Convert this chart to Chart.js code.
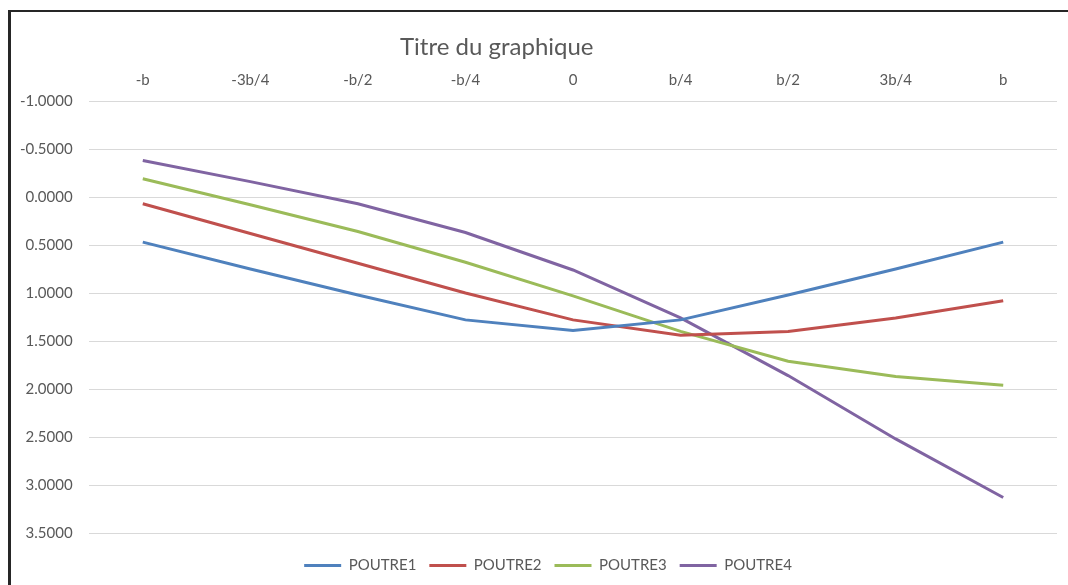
<!DOCTYPE html>
<html>
<head>
<meta charset="utf-8">
<script src="https://cdn.jsdelivr.net/npm/chart.js@4"></script>
<style>
  html, body { margin: 0; padding: 0; background: #fff; overflow: hidden; }
  #wrap { position: relative; width: 1068px; height: 585px; overflow: hidden; }
  #cadre { position: absolute; left: 8px; top: 10px; width: 1200px; height: 700px;
           border-top: 2px solid #262626; border-left: 3px solid #262626; box-sizing: border-box; }
  #titre { position: absolute; left: 400px; top: 31px; font-family: Lato, "Open Sans", sans-serif;
           font-size: 24px; color: #595959; white-space: nowrap; }
  #box { position: absolute; left: 0; top: 0; width: 1068px; height: 620px; }
</style>
</head>
<body>
<div id="wrap">
  <div id="box"><canvas id="graphique"></canvas></div>
  <div id="cadre"></div>
  <div id="titre">Titre du graphique</div>
</div>
<script>
// positions le long de la poutre
const positions = ['-b', '-3b/4', '-b/2', '-b/4', '0', 'b/4', 'b/2', '3b/4', 'b'];

// valeurs
const poutre1 = [0.47, 0.75, 1.02, 1.28, 1.39, 1.28, 1.02, 0.75, 0.47];
const poutre2 = [0.07, 0.38, 0.69, 1.00, 1.28, 1.44, 1.40, 1.26, 1.08];
const poutre3 = [-0.19, 0.08, 0.36, 0.68, 1.03, 1.40, 1.71, 1.87, 1.96];
const poutre4 = [-0.38, -0.16, 0.07, 0.37, 0.76, 1.26, 1.86, 2.52, 3.13];

const yMin = -1;
const yMax = 3.5;
const yPas = 0.5;

function serie(nom, valeurs, couleur) {
    return {
        label: nom,
        data: valeurs,
        borderColor: couleur,
        backgroundColor: couleur,
        borderWidth: 3,
        pointRadius: 0,
        pointHoverRadius: 0,
        tension: 0,
        fill: false
    };
}

const police = { family: 'Lato, "Open Sans", sans-serif', size: 15 };

const config = {
    type: 'line',
    data: {
        labels: positions,
        datasets: [
            serie('POUTRE1', poutre1, '#4F81BD'),
            serie('POUTRE2', poutre2, '#C0504D'),
            serie('POUTRE3', poutre3, '#9BBB59'),
            serie('POUTRE4', poutre4, '#8064A2')
        ]
    },
    options: {
        responsive: true,
        maintainAspectRatio: false,
        animation: false,
        layout: {
            // gauche plus large pour décaler la légende vers la droite
            padding: { left: 39, right: 11, top: 65, bottom: 37 }
        },
        plugins: {
            legend: {
                position: 'bottom',
                // titre vide : sert juste d'espace au-dessus de la légende
                title: { display: true, text: '', padding: 0, font: { size: 10 } },
                labels: {
                    usePointStyle: true,
                    pointStyle: 'line',
                    pointStyleWidth: 37,
                    padding: 13,
                    color: '#595959',
                    font: police
                }
            },
            tooltip: { enabled: false }
        },
        scales: {
            x: {
                position: 'top',
                offset: true,
                grid: { display: false, drawTicks: false },
                border: { display: false },
                ticks: { color: '#595959', font: police, padding: 12, maxRotation: 0 },
                afterFit: function (scale) { scale.height = 36; }
            },
            y: {
                reverse: true,
                min: yMin,
                max: yMax,
                grid: { color: '#d9d9d9', lineWidth: 1, drawTicks: false },
                border: { display: false },
                ticks: {
                    stepSize: yPas,
                    color: '#595959',
                    font: police,
                    // mirror pour ne pas couper les libellés, recalés à gauche
                    mirror: true,
                    crossAlign: 'far',
                    padding: -69,
                    callback: function (v) { return Number(v).toFixed(4); }
                },
                afterFit: function (scale) { scale.width = 50; }
            }
        }
    }
};

const ctx = document.getElementById('graphique').getContext('2d');
const monGraphique = new Chart(ctx, config);
</script>
</body>
</html>
